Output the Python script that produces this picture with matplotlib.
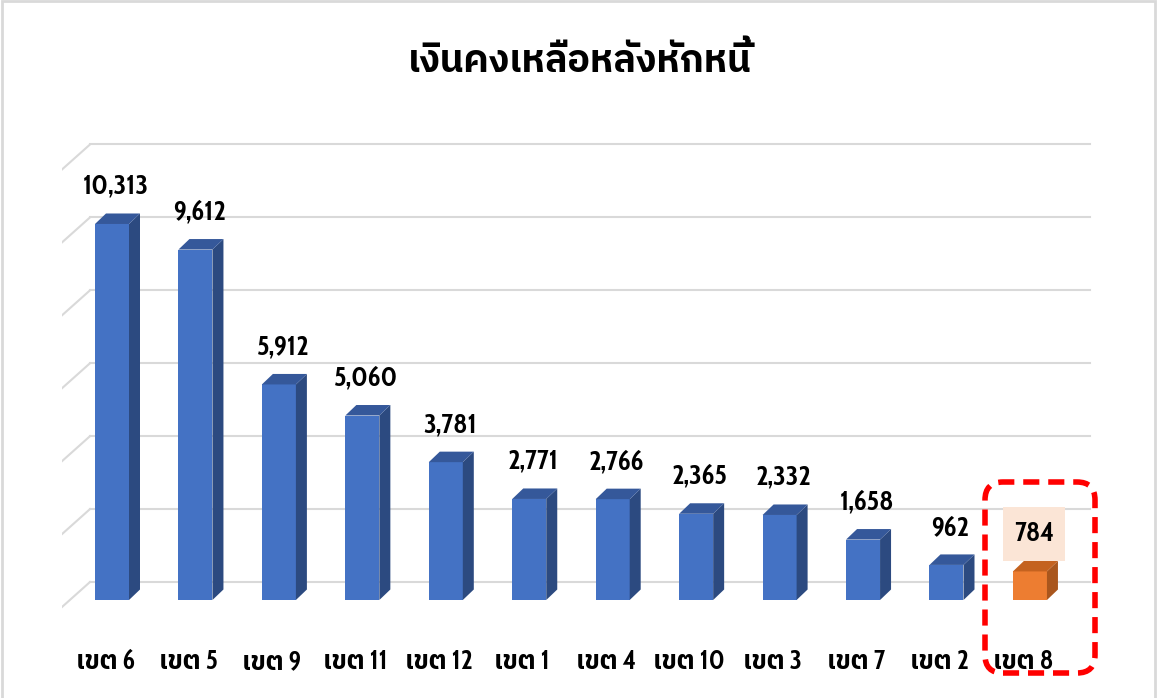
import matplotlib
matplotlib.use('Agg')
import matplotlib.pyplot as plt
from matplotlib import font_manager
from matplotlib.font_manager import FontProperties
from matplotlib.ft2font import FT2Font
from matplotlib.patches import Polygon, Rectangle, FancyBboxPatch
from matplotlib.transforms import IdentityTransform

# data
title = 'เงินคงเหลือหลังหักหนี้'
districts = ['เขต 6', 'เขต 5', 'เขต 9', 'เขต 11', 'เขต 12', 'เขต 1',
             'เขต 4', 'เขต 10', 'เขต 3', 'เขต 7', 'เขต 2', 'เขต 8']
balance = [10313, 9612, 5912, 5060, 3781, 2771, 2766, 2365, 2332, 1658, 962, 784]
grid_values = [0, 2000, 4000, 6000, 8000, 10000, 12000]
highlight = 'เขต 8'


def find_thai_fonts():
    found = []
    for f in font_manager.fontManager.ttflist:
        try:
            cmap = FT2Font(f.fname).get_charmap()
        except Exception:
            continue
        if 0x0E40 in cmap and 0x0E07 in cmap and f.name not in found:
            found.append(f.name)
    found.sort(key=lambda n: (0 if 'Thai' in n else 1, n))
    return found


def ink(path, s):
    ft = FT2Font(path)
    ft.set_size(100, 72)
    ft.set_text(s, 0.0)
    w, h = ft.get_width_height()
    return w / 64, h / 64


def pick_number_font(target_ratio=3.3):
    # heavy upright face whose "10,313" is as narrow as in the original
    best, best_err = None, None
    for f in font_manager.fontManager.ttflist:
        try:
            w = int(f.weight)
        except (TypeError, ValueError):
            w = 700 if 'bold' in str(f.weight) else 400
        if w < 600 or f.style != 'normal' or 'Mono' in f.name:
            continue
        try:
            width, _ = ink(f.fname, '10,313')
            _, height = ink(f.fname, '10313')
        except Exception:
            continue
        if height <= 0:
            continue
        err = abs(width / height - target_ratio) + (0.3 if w < 700 else 0)
        if best_err is None or err < best_err:
            best, best_err = (f, height / 100), err
    return best


thai = find_thai_fonts()
plt.rcParams['font.family'] = thai[:1] + ['DejaVu Sans']

picked = pick_number_font()
if picked is not None:
    nf, digit_em = picked
    num_size = 20 / digit_em * 0.72          # digits 20 px tall
    num_font = FontProperties(fname=nf.fname, size=num_size)
    tick_font = FontProperties(family=[nf.name] + thai[:1] + ['DejaVu Sans'],
                               weight=nf.weight, stretch=nf.stretch, size=19)
else:
    num_font = FontProperties(family=thai[:1] + ['DejaVu Sans'], weight='bold', size=20)
    tick_font = FontProperties(family=thai[:1] + ['DejaVu Sans'], weight='bold', size=19)

W, H = 1165, 698
fig = plt.figure(figsize=(W / 100, H / 100), dpi=100)

# pixel scale of the chart
px_cat = 83.45      # px between categories
px_val = 0.03646    # px per unit value
cx0 = 112           # px of first category centre
base = 600          # px (from top) of value 0 on the bar fronts

ax = fig.add_axes([62 / W, (H - 615) / H, (1092 - 62) / W, (615 - 125) / H])
ax.set_xlim((62 - cx0) / px_cat, (1092 - cx0) / px_cat)
ax.set_ylim((base - 615) / px_val, (base - 125) / px_val)
ax.axis('off')

half = 17 / px_cat
dx = 11 / px_cat
dy = 10.5 / px_val

# back wall gridlines with the slanted floor-edge stubs
back_y = 18 / px_val
gx0 = (90 - cx0) / px_cat
gx1 = (1090 - cx0) / px_cat
xl = (62 - cx0) / px_cat
for g in grid_values:
    yb = g + back_y
    ax.plot([gx0, gx1], [yb, yb], color='#D9D9D9', lw=1.5, zorder=1)
    ax.plot([xl, gx0], [yb - 25 / px_val, yb], color='#D9D9D9', lw=1.5, zorder=1)

for i, (name, v) in enumerate(zip(districts, balance)):
    if name == highlight:
        front, side, top = '#ED7D31', '#A9561D', '#C4621F'
    else:
        front, side, top = '#4472C4', '#2C4A80', '#35589A'
    ax.add_patch(Rectangle((i - half, 0), 2 * half, v, fc=front, ec='none', zorder=3))
    ax.add_patch(Polygon([(i + half, 0), (i + half + dx, dy), (i + half + dx, v + dy), (i + half, v)],
                         closed=True, fc=side, ec='none', zorder=3))
    ax.add_patch(Polygon([(i - half, v), (i - half + dx, v + dy), (i + half + dx, v + dy), (i + half, v)],
                         closed=True, fc=top, ec='none', zorder=3))

    lx = i + 4 / px_cat
    ly = v + 37 / px_val
    if name == highlight:
        ax.add_patch(Rectangle((lx - 31 / px_cat, ly - 27 / px_val), 62 / px_cat, 54 / px_val,
                               fc='#FBE5D6', ec='none', zorder=4))
    ax.text(lx, ly, f'{v:,}', ha='center', va='center', fontproperties=num_font,
            color='black', zorder=5)

    ax.text(i - 7 / px_cat, (base - 662) / px_val, name, ha='center', va='center',
            fontproperties=tick_font, color='black', clip_on=False)

fig.text(580 / W, 1 - 62 / H, title, ha='center', va='center', fontsize=27,
         fontweight='bold', color='black')

# red dashed call-out round the last district
callout = FancyBboxPatch((985, H - 673), 110, 191, boxstyle='round,pad=0,rounding_size=18',
                         fill=False, ec='#FF0000', lw=4, linestyle=(0, (2.9, 1.6)),
                         transform=IdentityTransform())
fig.add_artist(callout)

# thin grey frame of the picture
frame = Rectangle((2, -5), 1153, H + 4, fill=False, ec='#D9D9D9', lw=2,
                  transform=IdentityTransform())
fig.add_artist(frame)

fig.savefig('out.png', dpi=100)
